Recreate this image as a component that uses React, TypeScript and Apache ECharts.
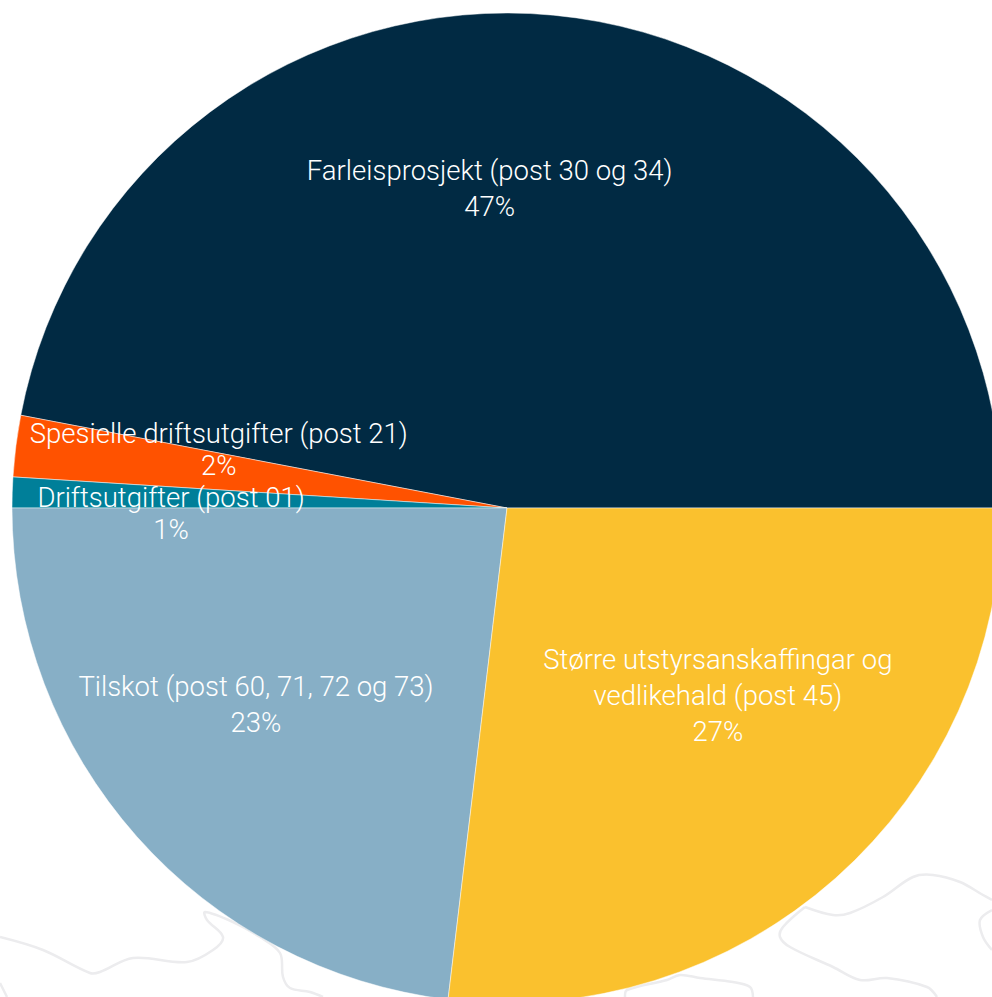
import React, { useEffect, useRef } from "react";
import * as echarts from "echarts";

const categories = [
  "Farleisprosjekt (post 30 og 34)",
  "Spesielle driftsutgifter (post 21)",
  "Driftsutgifter (post 01)",
  "Tilskot (post 60, 71, 72 og 73)",
  "Større utstyrsanskaffingar og\nvedlikehald (post 45)",
];
const shares = [47.0, 2.0, 1.0, 23.1, 26.9];
const colors = ["#012a43", "#ff5200", "#007f99", "#87afc6", "#fac12e"];
// label placement: [angle in degrees (ccw from 3 o'clock), radius in px]
const labelPlacement: [number, number][] = [
  [93.1, 320],
  [168.6, 294],
  [181, 336],
  [218.1, 319],
  [318.4, 282],
];
const labelLineHeights = [36, 32, 32, 36, 36];

const CX = 507;
const CY = 508;
const R = 495;

const contourLines: number[][][] = [
  [[0, 937], [43, 950], [90, 973], [100, 972], [133, 958], [187, 962], [213, 950], [223, 937], [207, 920], [205, 912], [233, 922], [260, 937], [280, 953], [283, 977], [290, 988], [310, 992], [323, 997]],
  [[0, 983], [7, 997]],
  [[625, 997], [627, 990], [667, 980], [680, 975], [700, 978], [733, 982], [750, 987], [753, 997]],
  [[805, 907], [783, 927], [780, 937], [790, 947], [833, 967], [860, 980], [887, 978], [927, 987], [937, 997]],
  [[805, 907], [833, 915], [850, 913], [883, 897], [913, 877], [933, 875], [960, 882], [983, 895], [992, 900]],
  [[992, 910], [980, 920], [983, 937], [992, 950]],
];

export default function App() {
  const ref = useRef<HTMLDivElement>(null);
  useEffect(() => {
    if (!ref.current) return;
    const chart = echarts.init(ref.current, undefined, { renderer: "svg" });
    chart.setOption({
      animation: false,
      backgroundColor: "#ffffff",
      graphic: contourLines.map((pts) => ({
        type: "polyline",
        z: -10,
        silent: true,
        shape: { points: pts, smooth: 0.35 },
        style: { stroke: "#ececee", lineWidth: 2.5, fill: null },
      })),
      series: [
        {
          type: "pie",
          center: [CX, CY],
          radius: R,
          startAngle: 0,
          clockwise: false,
          avoidLabelOverlap: false,
          percentPrecision: 0,
          data: categories.map((name, i) => ({
            name,
            value: shares[i],
            itemStyle: { color: colors[i] },
            label: { lineHeight: labelLineHeights[i] },
          })),
          itemStyle: { borderColor: "rgba(255,255,255,0.6)", borderWidth: 0.8 },
          label: {
            show: true,
            position: "inside",
            formatter: "{b}\n{d}%",
            color: "#ffffff",
            fontFamily: "Roboto",
            fontWeight: 300,
            fontSize: 27.5,
            lineHeight: 36,
            align: "center",
          },
          labelLine: { show: false },
          labelLayout: (params: any) => {
            const p = labelPlacement[params.dataIndex];
            const a = (p[0] * Math.PI) / 180;
            return {
              x: CX + p[1] * Math.cos(a),
              y: CY - p[1] * Math.sin(a),
            };
          },
          emphasis: { disabled: true },
        },
      ],
    });
    return () => chart.dispose();
  }, []);
  return (
    <div
      ref={ref}
      style={{ position: "fixed", left: 0, top: 0, width: 992, height: 997 }}
    />
  );
}
